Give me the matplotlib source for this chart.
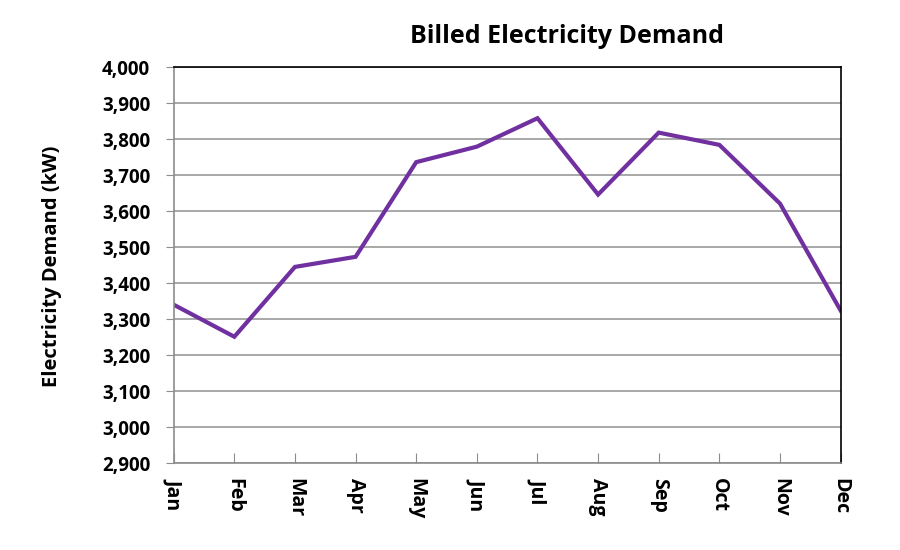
import matplotlib
matplotlib.use("Agg")
import matplotlib.pyplot as plt
import numpy as np

# データ
months = ["Jan", "Feb", "Mar", "Apr", "May", "Jun",
          "Jul", "Aug", "Sep", "Oct", "Nov", "Dec"]
demand = [3340, 3251, 3445, 3473, 3736, 3779,
          3858, 3646, 3818, 3784, 3621, 3324]
yticks = np.arange(2900, 4001, 100)

plt.rcParams['font.family'] = ['Open Sans', 'DejaVu Sans']

fig = plt.figure(figsize=(9, 5.5), dpi=100)
ax = fig.add_axes([0.193, 0.158, 0.741, 0.720])

x = np.arange(len(months))
ax.plot(x, demand, color="#7030A0", linewidth=3, solid_joinstyle="miter")

# 軸
ax.set_xlim(0, len(months) - 1)
ax.set_ylim(2900, 4000)
ax.set_yticks(yticks)
ax.set_yticklabels([f"{v:,}" for v in yticks], fontsize=13.5, fontweight="bold")
ax.set_xticks(x)
ax.set_xticklabels(months, rotation=-90, fontsize=14, fontweight="bold")

ax.grid(axis="y", color="#9a9a9a", linewidth=1.2)
ax.set_axisbelow(True)

for s in ["left", "bottom"]:
    ax.spines[s].set_color("#8c8c8c")
    ax.spines[s].set_linewidth(1.2)
for s in ["top", "right"]:
    ax.spines[s].set_color("black")
    ax.spines[s].set_linewidth(1.2)

ax.tick_params(axis="y", direction="out", length=6, color="#8c8c8c", pad=11)
ax.tick_params(axis="x", direction="in", length=7, color="#8c8c8c", pad=11)

# ラベル
fig.text(52 / 900, 0.516, "Electricity Demand (kW)", rotation=90,
         ha="center", va="center", fontsize=14.5, fontweight="bold")
fig.text(0.630, 0.933, "Billed Electricity Demand", ha="center", va="center",
         fontsize=18, fontweight="bold")

fig.savefig("out.png", dpi=100)
